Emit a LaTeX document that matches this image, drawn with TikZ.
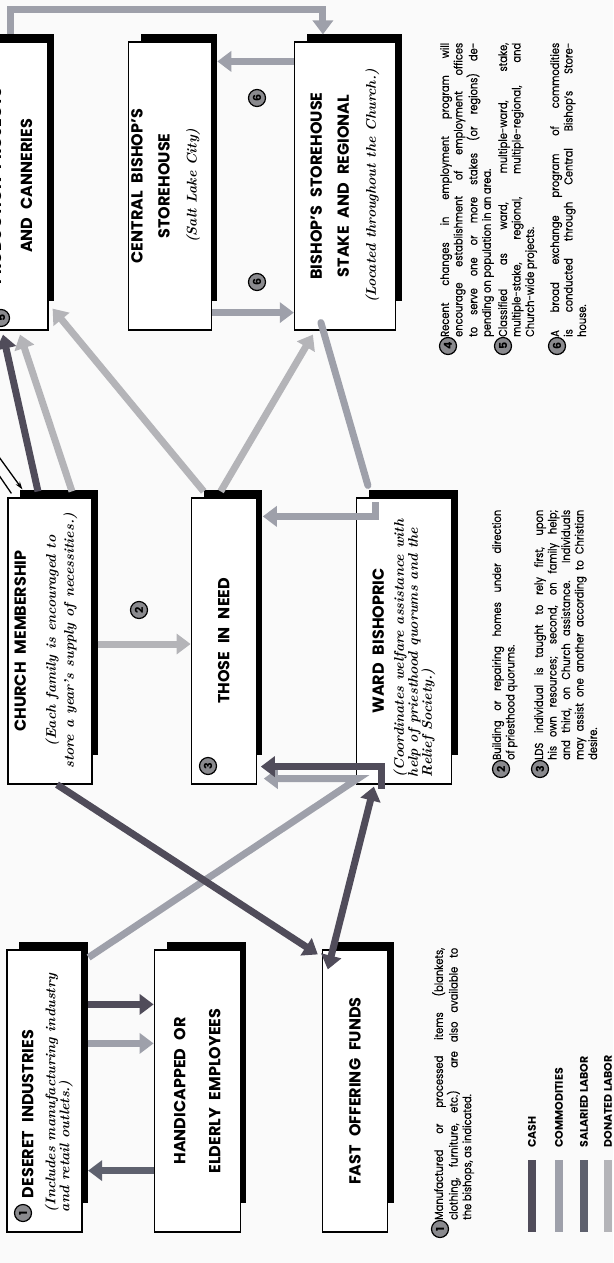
\documentclass[tikz,border=0pt]{standalone}
\usepackage{fontspec}
\setsansfont{Poppins}
\newfontfamily\notefont{Poppins}[FakeBold=0.4, FakeStretch=0.86]
\usetikzlibrary{arrows.meta,positioning,backgrounds}

\definecolor{cashcol}{RGB}{80,76,90}
\definecolor{commodcol}{RGB}{158,160,170}
\definecolor{salarycol}{RGB}{94,97,110}
\definecolor{donatedcol}{RGB}{180,180,184}
\definecolor{markcol}{RGB}{138,138,142}
\definecolor{paper}{RGB}{250,250,250}

\newcommand{\titlefont}{\sffamily\bfseries\fontsize{16}{27}\selectfont\spaceskip=0.5em\relax}
\newcommand{\subfont}{\rmfamily\itshape\fontsize{14}{18}\selectfont\spaceskip=0pt\relax}
\newcommand{\nobreaks}{\hyphenpenalty=10000\exhyphenpenalty=10000\relax}
\newcommand{\turned}[2]{\rotatebox{90}{\parbox{#1}{#2}}}

\tikzset{
  panel/.style={draw, fill=white, line width=1.2pt, inner sep=0pt, font=\titlefont},
  toprow/.style={panel, minimum height=288pt},
  midrow/.style={panel, minimum height=286pt},
  lowrow/.style={panel, minimum height=282pt},
  flow/.style={line width=7pt},
  head/.style={-{Triangle[width=20pt,length=14pt]}},
  bothheads/.style={{Triangle[width=20pt,length=14pt]}-{Triangle[width=20pt,length=14pt]}},
  cash/.style={flow, draw=cashcol},
  commodity/.style={flow, draw=commodcol},
  salaried/.style={flow, draw=salarycol},
  donated/.style={flow, draw=donatedcol},
  pointer/.style={line width=1.3pt, -{Stealth[length=8pt,width=5pt]}},
  marker/.style={circle, draw, line width=1.2pt, fill=markcol, inner sep=0pt,
    minimum size=17pt, rotate=90, font=\sffamily\bfseries\fontsize{11}{11}\selectfont},
  notetext/.style={rotate=90, anchor=north west, inner sep=0pt, align=justify,
    font=\notefont\fontsize{11.5}{13.5}\selectfont\nobreaks},
  keybar/.style={minimum width=8pt, minimum height=72pt, inner sep=0pt},
  keylabel/.style={rotate=90, anchor=west, inner sep=0pt,
    font=\sffamily\bfseries\fontsize{11}{11}\selectfont},
}

\begin{document}
\begin{tikzpicture}[x=1pt,y=-1pt]
\useasboundingbox (0,0) rectangle (613,1263);

% top row
\node[toprow, minimum width=68pt] (prod) at (14,186)
  {\turned{270pt}{\centering PRODUCTION PROJECTS\\[4pt]AND CANNERIES\par\vspace{6pt}}};
\node[toprow, minimum width=83pt, right=79pt of prod] (central)
  {\turned{270pt}{\centering CENTRAL BISHOP’S\\STOREHOUSE\\{\subfont (Salt Lake City)}\par\vspace{8pt}}};
\node[toprow, minimum width=101pt, right=82pt of central] (store)
  {\turned{270pt}{\centering BISHOP’S STOREHOUSE\\STAKE AND REGIONAL\\{\subfont (Located throughout the Church.)}}};

% middle row
\node[midrow, minimum width=84pt] (church) at (50,641)
  {\turned{276pt}{\centering CHURCH MEMBERSHIP\par\vspace{12pt}%
   {\subfont (Each family is encouraged to\\store a year’s supply of necessities.)\par}\vspace{8pt}}};
\node[midrow, minimum width=65pt, right=98pt of church] (need)
  {\turned{270pt}{\centering THOSE IN NEED}};
\node[midrow, minimum width=95pt, right=99pt of need] (ward)
  {\turned{272pt}{\centering WARD BISHOPRIC\par\vspace{6pt}%
   {\raggedright\subfont\baselineskip=14pt (Coordinates welfare assistance with\\help of priesthood quorums and the\\Relief Society.)\par}}};

% bottom row
\node[lowrow, minimum width=75pt] (deseret) at (44.5,1091)
  {\turned{242pt}{\vspace*{6pt}\raggedright\hspace*{14pt}DESERET INDUSTRIES\par\vspace{8pt}%
   {\subfont\baselineskip=14pt (Includes manufacturing industry\\and retail outlets.)\par}}};
\node[lowrow, minimum width=86pt, right=71pt of deseret] (handi)
  {\turned{270pt}{\centering\baselineskip=35pt HANDICAPPED OR\\ELDERLY EMPLOYEES}};
\node[lowrow, minimum width=65pt, right=81pt of handi] (fast)
  {\turned{270pt}{\centering FAST OFFERING FUNDS}};

% shadows and paper
\begin{scope}[on background layer]
  \fill[paper] (0,0) rectangle (613,1263);
  \foreach \b in {prod,central,store,church,need,ward,deseret,handi,fast}
    \fill[black] ([xshift=13pt,yshift=7pt]\b.north west) rectangle ([xshift=5.5pt,yshift=30pt]\b.south east);
\end{scope}

% commodities
\draw[commodity, head] ([xshift=-4pt,yshift=7pt]prod.north) -- ++(0,-25) -| ([xshift=-22pt,yshift=7pt]store.north);
\draw[commodity, head] ([yshift=-20pt]store.north west) -- ([xshift=5.5pt,yshift=-20pt]central.north east);
\draw[commodity, head] ([yshift=18pt]central.south east) -- ([yshift=18pt]store.south west);
\draw[commodity, line cap=round] ([xshift=-24pt,yshift=8pt]store.south) -- ([xshift=-36pt,yshift=12pt]ward.north);
\draw[commodity, head] ([xshift=-28pt,yshift=-5pt]ward.north) |- ([xshift=6pt,yshift=-19pt]need.north east);
\draw[commodity, head] ([xshift=6pt,yshift=-8pt]deseret.north east) -- ([xshift=2pt,yshift=6pt]ward.south west)
  -- ([xshift=7pt,yshift=6pt]need.south east);
\draw[commodity, head] ([xshift=5pt,yshift=-94pt]deseret.north east) -- ([yshift=-94pt]handi.north west);

% donated labor
\draw[donated, head] ([xshift=22pt,yshift=6pt]church.north) -- ([xshift=6pt,yshift=-4pt]prod.south);
\draw[donated, head] ([xshift=-20pt,yshift=6pt]need.north) -- ([xshift=4pt,yshift=22pt]prod.south east);
\draw[donated, head] ([xshift=-3pt,yshift=6pt]need.north) -- ([xshift=-32pt,yshift=-4pt]store.south);
\draw[donated, head] ([xshift=5pt,yshift=-3pt]church.east) -- ([yshift=-3pt]need.west);

% cash
\draw[cash, head] ([xshift=-12pt,yshift=6pt]church.north) -- ([xshift=-11pt,yshift=-4pt]prod.south);
\draw[cash, head] ([xshift=7pt]church.south) -- ([xshift=-4pt,yshift=-5pt]fast.north west);
\draw[cash, bothheads] ([xshift=6pt,yshift=-20pt]fast.north west) -- ([xshift=-30pt,yshift=-2pt]ward.south);
\draw[cash, head] ([xshift=-22pt,yshift=-4pt]ward.south) |- ([xshift=4pt,yshift=18pt]need.south east);
\draw[cash, head] ([xshift=5pt,yshift=-55pt]deseret.north east) -- ([yshift=-55pt]handi.north west);

% salaried labor
\draw[salaried, head] ([yshift=62pt]handi.south west) -- ([xshift=5.5pt,yshift=62pt]deseret.south east);

% pointers from the left
\coordinate (offa) at (-6,450);
\coordinate (offb) at (-6,468);
\draw[pointer] (offa) -- ([xshift=15pt,yshift=8pt]church.north west);
\draw[line width=1.3pt] (offb) -- ([xshift=4pt,yshift=4pt]church.north west);

% numbered markers
\node[marker] (markfive) at (1,318) {5};
\node[marker] (markone) at (23,1213) {1};
\node[marker] (markthree) at (208,766) {3};
\node[marker] (marktwo) at (139,610) {2};
\node[marker] (marksixa) at (257,98) {6};
\node[marker] (marksixb) at (257,282) {6};

% notes
\node[notetext, text width=294pt] (notefour) at (440,337)
  {Recent changes in employment program will\linebreak encourage establishment of employment offices\linebreak
   to serve one or more stakes (or regions) de-\linebreak pending on population in an area.};
\node[marker] (keyfour) at (448,346) {4};
\node[notetext, text width=294pt] (notefive) at (498,337)
  {Classified as ward, multiple-ward, stake,\linebreak multiple-stake, regional, multiple-regional, and\linebreak
   Church-wide projects.};
\node[marker] (keyfive) at (503,346) {5};
\node[notetext, text width=294pt] (notesix) at (550,337)
  {A broad exchange program of commodities\linebreak is conducted through Central Bishop’s Store-\linebreak house.};
\node[marker] (keysix) at (557,346) {6};

\node[notetext, text width=250pt] (notetwo) at (492,760)
  {Building or repairing homes under direction\linebreak of priesthood quorums.};
\node[marker] (keytwo) at (501,769) {2};
\node[notetext, text width=250pt] (notethree) at (534,760)
  {LDS individual is taught to rely first, upon\linebreak his own resources; second, on family help;\linebreak
   and third, on Church assistance. Individuals\linebreak may assist one another according to Christian\linebreak desire.};
\node[marker] (keythree) at (540,769) {3};

\node[notetext, text width=272pt] (noteone) at (432,1220)
  {Manufactured or processed items (blankets,\linebreak clothing, furniture, etc.) are also available to\linebreak
   the bishops, as indicated.};
\node[marker] (keyone) at (440,1229) {1};

% legend
\foreach \x/\c/\t/\n in {532/cashcol/CASH/cash, 559/commodcol/COMMODITIES/commod,
                         584/salarycol/SALARIED LABOR/salary, 608/donatedcol/DONATED LABOR/donated} {
  \node[keybar, fill=\c] (bar\n) at (\x,1196) {};
  \node[keylabel] (key\n) at ([yshift=12pt]bar\n.north) {\t};
}
\end{tikzpicture}
\end{document}
